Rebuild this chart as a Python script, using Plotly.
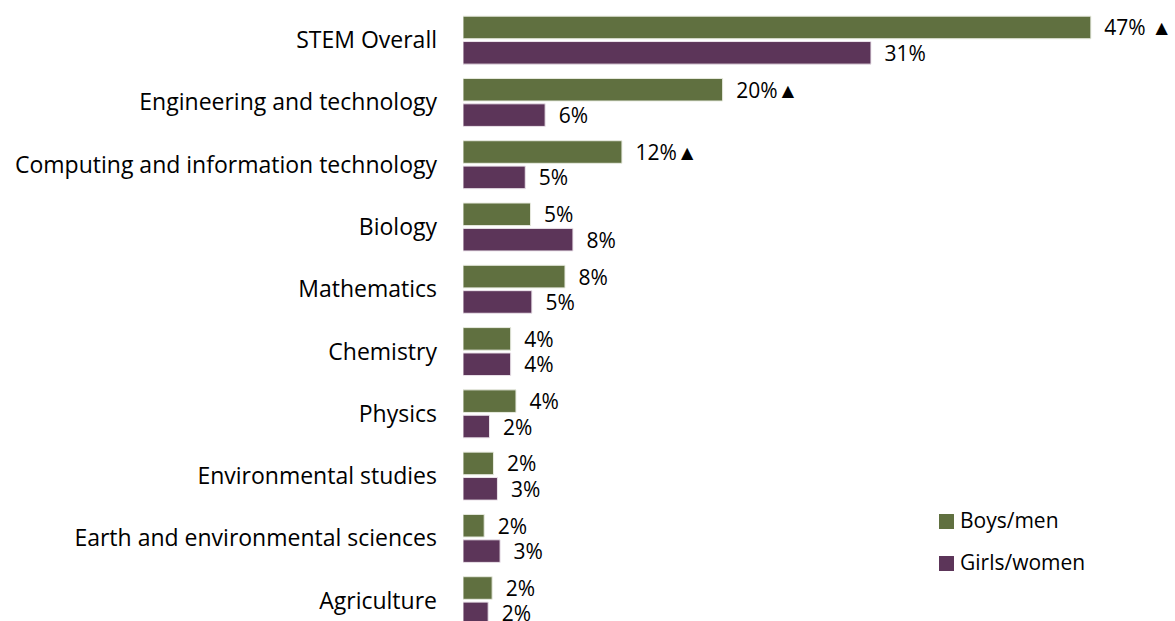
import plotly.graph_objects as go

# Share of students intending to major in each field, by gender (%)
fields = [
    "STEM Overall",
    "Engineering and technology",
    "Computing and information technology",
    "Biology",
    "Mathematics",
    "Chemistry",
    "Physics",
    "Environmental studies",
    "Earth and environmental sciences",
    "Agriculture",
]
boys = [47.4, 19.6, 12.0, 5.1, 7.7, 3.6, 4.0, 2.3, 1.6, 2.2]
girls = [30.8, 6.2, 4.7, 8.3, 5.2, 3.6, 2.0, 2.6, 2.8, 1.9]
# Significant difference markers for boys/men
boys_flags = [" \u25B2", "\u25B2", "\u25B2", "", "", "", "", "", "", ""]

series_names = ["Boys/men", "Girls/women"]
GREEN = "#607040"
PURPLE = "#5C3559"
FONT = "Open Sans, sans-serif"


def pct_labels(values, flags=None):
    flags = flags or [""] * len(values)
    return ["\u2002" + f"{round(v)}%" + f for v, f in zip(values, flags)]


fig = go.Figure()
fig.add_trace(go.Bar(
    name=series_names[0], y=fields, x=boys, orientation="h",
    marker=dict(color=GREEN, line=dict(color="#e8ebe0", width=1)),
    text=pct_labels(boys, boys_flags), textposition="outside",
    textfont=dict(size=21, color="#000000", family=FONT),
    constraintext="none", cliponaxis=False, showlegend=False,
))
fig.add_trace(go.Bar(
    name=series_names[1], y=fields, x=girls, orientation="h",
    marker=dict(color=PURPLE, line=dict(color="#ebe3ea", width=1)),
    text=pct_labels(girls), textposition="outside",
    textfont=dict(size=21, color="#000000", family=FONT),
    constraintext="none", cliponaxis=False, showlegend=False,
))

# Compact legend: square swatch set tight against each series name
legend_top = 0.1748
legend_step = 0.0686
swatch_h = 0.0245
for i, (name, col) in enumerate(zip(series_names, [GREEN, PURPLE])):
    top = legend_top - i * legend_step
    fig.add_shape(
        type="rect", xref="paper", yref="paper",
        x0=0.7245, x1=0.7473, y0=top - swatch_h, y1=top,
        fillcolor=col, line=dict(width=0),
    )
    fig.add_annotation(
        xref="paper", yref="paper", x=0.754, y=top - swatch_h / 2 + 0.002,
        xanchor="left", yanchor="middle", showarrow=False,
        text=name, font=dict(size=21, family=FONT, color="#000000"),
    )

fig.update_layout(
    width=1175, height=621,
    margin=dict(l=463, r=55, t=9, b=0, pad=0),
    plot_bgcolor="white", paper_bgcolor="white",
    barmode="group", bargap=0.185, bargroupgap=0.11,
    font=dict(family=FONT, size=21, color="#000000"),
    xaxis=dict(range=[0, 49.6], visible=False, fixedrange=True),
    yaxis=dict(
        type="category", categoryorder="array", categoryarray=fields,
        range=[9.326, -0.5], showgrid=False, zeroline=False,
        showline=False, ticks="", ticklabelstandoff=25,
        tickfont=dict(size=23, color="#000000", family=FONT),
    ),
    showlegend=False,
)

fig.write_html("out.html")
